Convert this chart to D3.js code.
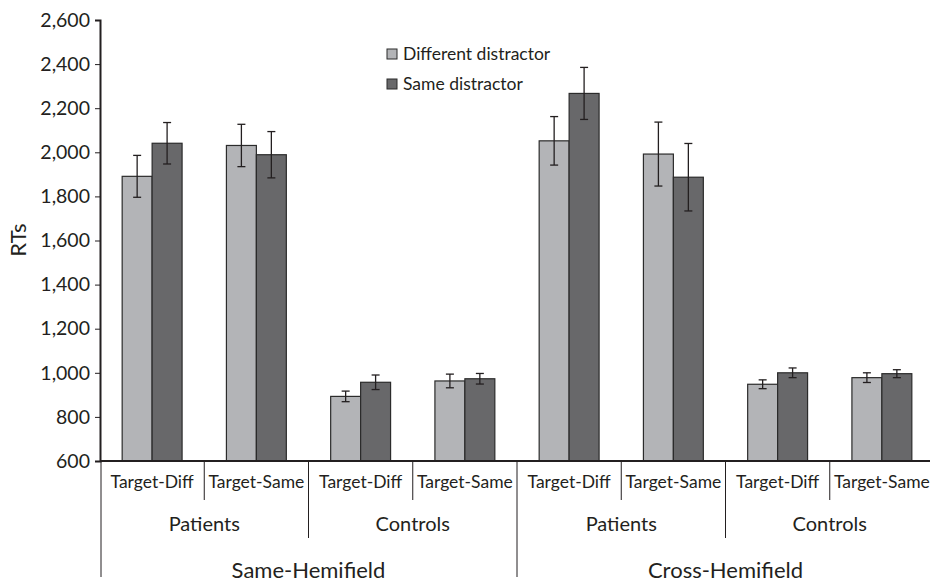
<!DOCTYPE html>
<html>
<head>
<meta charset="utf-8">
<script src="https://cdnjs.cloudflare.com/ajax/libs/d3/7.8.5/d3.min.js"></script>
<style>
  body { margin: 0; background: #fff; }
  svg text { font-family: Lato, "Open Sans", sans-serif; fill: #231f20; }
</style>
</head>
<body>
<svg id="chart"></svg>
<script>
// chart size
var width = 930;
var height = 583;

// data
const targets = ['Target-Diff', 'Target-Same', 'Target-Diff', 'Target-Same',
                 'Target-Diff', 'Target-Same', 'Target-Diff', 'Target-Same']
const groups = ['Patients', 'Controls', 'Patients', 'Controls']
const hemifields = ['Same-Hemifield', 'Cross-Hemifield']
const seriesNames = ['Different distractor', 'Same distractor']
const diffMeans = [1891, 2031, 893, 963, 2052, 1992, 948, 978]
const diffErr = [95, 96, 24, 31, 110, 145, 20, 22]
const sameMeans = [2041, 1989, 957, 973, 2267, 1887, 1000, 996]
const sameErr = [94, 105, 33, 24, 118, 153, 22, 18]
const yTicks = [600, 800, 1000, 1200, 1400, 1600, 1800, 2000, 2200, 2400, 2600]

const colors = ['#b3b4b7', '#68686a']
const ink = '#231f20'

let svg = d3.select('#chart').attr('width', width).attr('height', height)

const plotLeft = 100, plotRight = 934, plotTop = 20, plotBottom = 461

let x0 = d3.scaleBand()
    .domain(d3.range(targets.length))
    .range([plotLeft, plotRight])
    .padding(0)

let x1 = d3.scaleBand()
    .domain(seriesNames)
    .range([0, x0.bandwidth()])
    .paddingInner(0)
    .paddingOuter(0.74)

let y = d3.scaleLinear().domain([600, 2600]).range([plotBottom, plotTop])

// build rows for bars
let rows = []
targets.forEach((t, i) => {
    rows.push({ i: i, s: seriesNames[0], v: diffMeans[i], e: diffErr[i] })
    rows.push({ i: i, s: seriesNames[1], v: sameMeans[i], e: sameErr[i] })
})

// bars
svg.append('g').selectAll('rect')
    .data(rows)
    .enter()
    .append('rect')
    .attr('x', d => x0(d.i) + x1(d.s))
    .attr('y', d => y(d.v))
    .attr('width', x1.bandwidth())
    .attr('height', d => y(600) - y(d.v))
    .attr('fill', d => colors[seriesNames.indexOf(d.s)])
    .attr('stroke', '#2b2b2b')
    .attr('stroke-width', 1.2)

// error bars
let err = svg.append('g').attr('stroke', ink).attr('stroke-width', 1.3)
rows.forEach(d => {
    let cx = x0(d.i) + x1(d.s) + x1.bandwidth() / 2
    err.append('line').attr('x1', cx).attr('x2', cx).attr('y1', y(d.v - d.e)).attr('y2', y(d.v + d.e))
    err.append('line').attr('x1', cx - 4).attr('x2', cx + 4).attr('y1', y(d.v - d.e)).attr('y2', y(d.v - d.e))
    err.append('line').attr('x1', cx - 4).attr('x2', cx + 4).attr('y1', y(d.v + d.e)).attr('y2', y(d.v + d.e))
})

// y axis
let yAxis = svg.append('g')
    .attr('transform', 'translate(' + plotLeft + ',0)')
    .call(d3.axisLeft(y).tickValues(yTicks).tickFormat(d3.format(',')).tickSize(5).tickPadding(5))
yAxis.select('.domain').attr('stroke', ink).attr('stroke-width', 2)
yAxis.selectAll('.tick line').attr('stroke', ink).attr('stroke-width', 1)
yAxis.selectAll('.tick text')
    .style('font-size', '19.5px')
    .attr('fill', ink)
    .attr('font-family', 'Lato, "Open Sans", sans-serif')

// baseline
svg.append('line')
    .attr('x1', plotLeft).attr('x2', plotRight)
    .attr('y1', plotBottom).attr('y2', plotBottom)
    .attr('stroke', ink).attr('stroke-width', 2)

// y label
svg.append('text')
    .attr('transform', 'translate(26,240) rotate(-90)')
    .attr('text-anchor', 'middle')
    .style('font-size', '22px')
    .text('RTs')

// hierarchical x labels
let step = x0.step()
let sep = svg.append('g').attr('stroke', ink).attr('stroke-width', 1)
for (let b = 0; b <= targets.length; b++) {
    let xx = plotLeft + b * step + (b == 0 ? 1 : 0)
    let yEnd = b % 4 == 0 ? 577 : (b % 2 == 0 ? 538 : 500)
    sep.append('line').attr('x1', xx).attr('x2', xx).attr('y1', plotBottom).attr('y2', yEnd)
}

svg.append('g').selectAll('text')
    .data(targets)
    .enter()
    .append('text')
    .attr('x', (d, i) => x0(i) + step / 2)
    .attr('y', 488)
    .attr('text-anchor', 'middle')
    .style('font-size', '17.5px')
    .text(d => d)

svg.append('g').selectAll('text')
    .data(groups)
    .enter()
    .append('text')
    .attr('x', (d, i) => plotLeft + (i * 2 + 1) * step)
    .attr('y', 531)
    .attr('text-anchor', 'middle')
    .style('font-size', '20px')
    .text(d => d)

svg.append('g').selectAll('text')
    .data(hemifields)
    .enter()
    .append('text')
    .attr('x', (d, i) => plotLeft + (i * 4 + 2) * step)
    .attr('y', 578)
    .attr('text-anchor', 'middle')
    .style('font-size', '22px')
    .text(d => d)

// legend
let legend = svg.append('g').attr('transform', 'translate(387,49)')
seriesNames.forEach((name, i) => {
    let g = legend.append('g').attr('transform', 'translate(0,' + i * 30 + ')')
    g.append('rect')
        .attr('width', 10).attr('height', 10)
        .attr('fill', colors[i])
        .attr('stroke', '#2b2b2b')
        .attr('stroke-width', 1)
    g.append('text')
        .attr('x', 16).attr('y', 5)
        .attr('dy', '0.35em')
        .style('font-size', '17.5px')
        .text(name)
})
</script>
</body>
</html>
